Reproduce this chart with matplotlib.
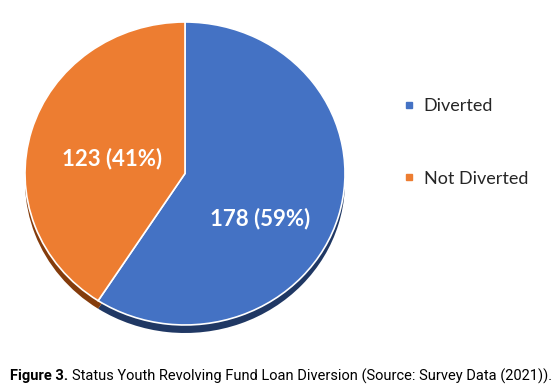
import matplotlib
matplotlib.use("Agg")
import matplotlib.pyplot as plt
from matplotlib.lines import Line2D

categories = ["Diverted", "Not Diverted"]
counts = [178, 123]
percents = [59, 41]

colors = ["#4472C4", "#ED7D31"]
side_colors = ["#203864", "#843C0C"]

fig = plt.figure(figsize=(5.53, 3.89), dpi=100)

# pie drawn into a non-square axes so that it comes out slightly squashed
ax = fig.add_axes([25 / 553, (389 - 333) / 389, 320 / 553, 311 / 389])

# the "depth" under the pie
ax.pie(counts, colors=side_colors, startangle=90, counterclock=False,
       center=(0, -0.053), radius=1.0, frame=True,
       wedgeprops=dict(linewidth=0))
ax.pie(counts, colors=colors, startangle=90, counterclock=False,
       radius=1.0, frame=True,
       wedgeprops=dict(edgecolor="white", linewidth=1.2))
ax.set_aspect("auto")
ax.set_xlim(-1, 1)
ax.set_ylim(-1.053, 1.0)
ax.axis("off")

label_pos = [(0.47, -0.30), (-0.455, 0.10)]
for (x, y), n, p in zip(label_pos, counts, percents):
    ax.text(x, y, f"{n} ({p}%)", color="white", fontsize=16, fontweight="bold",
            family="Lato", ha="center", va="center")

handles = [Line2D([], [], marker="s", linestyle="none", markersize=5,
                  markerfacecolor=c, markeredgecolor=c) for c in colors]
fig.legend(handles, categories, loc="upper left", bbox_to_anchor=(384 / 553, 1 - 82 / 389),
           frameon=False, prop={"family": "Lato", "size": 13}, labelspacing=3.13,
           handletextpad=0.3, handlelength=1.0, labelcolor="#262626")

cap_font = ["Roboto", "DejaVu Sans"]
t1 = fig.text(10 / 553, 1 - 376 / 389, "Figure 3.", fontsize=10.5, fontweight="bold",
              family=cap_font, va="center", ha="left")
fig.canvas.draw()
bb = t1.get_window_extent()
x2 = (bb.x1 + 4) / fig.bbox.width
fig.text(x2, 1 - 376 / 389,
         "Status Youth Revolving Fund Loan Diversion (Source: Survey Data (2021)).",
         fontsize=10.5, family=cap_font, va="center", ha="left")

fig.savefig("out.png", dpi=100)
